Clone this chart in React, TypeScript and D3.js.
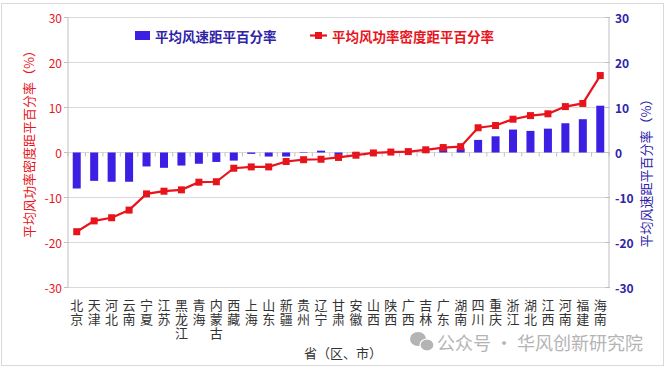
import * as d3 from "d3";
import { useEffect, useRef } from "react";

// provinces, sorted by power density anomaly
const provinces = [
  "北京", "天津", "河北", "云南", "宁夏", "江苏", "黑龙江", "青海", "内蒙古", "西藏",
  "上海", "山东", "新疆", "贵州", "辽宁", "甘肃", "安徽", "山西", "陕西", "广西",
  "吉林", "广东", "湖南", "四川", "重庆", "浙江", "湖北", "江西", "河南", "福建", "海南",
];

// 平均风速距平百分率 (right axis, bars)
const windSpeed = [
  -8.0, -6.3, -6.5, -6.5, -3.1, -3.4, -2.9, -2.5, -2.1, -1.8,
  -0.3, -0.9, -0.9, -0.1, 0.4, -1.2, -0.3, 0.1, 0.3, 0.2,
  0.3, 0.9, 0.9, 2.8, 3.6, 5.1, 4.8, 5.3, 6.5, 7.4, 10.4,
];

// 平均风功率密度距平百分率 (left axis, line)
const powerDensity = [
  -17.6, -15.2, -14.5, -12.8, -9.2, -8.6, -8.3, -6.6, -6.5, -3.5,
  -3.2, -3.2, -2.0, -1.6, -1.5, -1.1, -0.6, -0.1, 0.1, 0.2,
  0.6, 1.1, 1.3, 5.5, 6.0, 7.4, 8.2, 8.6, 10.2, 10.9, 17.1,
];

const tickValues = [30, 20, 10, 0, -10, -20, -30];

const RED = "#e8141c";
const BLUE = "#3b1fe3";
const BLUE_TEXT = "#2f24a8";
const FONT = "'Noto Sans CJK SC', 'Noto Sans', sans-serif";

export default function App() {
  const ref = useRef<SVGSVGElement>(null);

  useEffect(() => {
    const svg = d3.select(ref.current);
    svg.selectAll("*").remove();

    const left = 68, right = 609, top = 17.5, bottom = 287.5;

    const x = d3.scaleBand().domain(provinces).range([left, right]).padding(0);
    const yL = d3.scaleLinear().domain([-30, 30]).range([bottom, top]);
    const yR = d3.scaleLinear().domain([-30, 30]).range([bottom, top]);

    // outer frame
    svg.append("rect")
      .attr("x", 1.5).attr("y", 3.5).attr("width", 662).attr("height", 362)
      .attr("fill", "white").attr("stroke", "#d9d9d9");

    // gridlines
    svg.append("g").selectAll("line")
      .data(tickValues)
      .join("line")
      .attr("x1", left).attr("x2", right)
      .attr("y1", d => yL(d)).attr("y2", d => yL(d))
      .attr("stroke", "#d9d9d9").attr("stroke-width", 1);

    // left axis
    const gl = svg.append("g");
    gl.append("line").attr("x1", left).attr("x2", left).attr("y1", top).attr("y2", bottom)
      .attr("stroke", "#bfbfbf");
    gl.selectAll("line.t").data(tickValues).join("line").attr("class", "t")
      .attr("x1", left - 4).attr("x2", left).attr("y1", d => yL(d)).attr("y2", d => yL(d))
      .attr("stroke", "#bfbfbf");
    gl.selectAll("text").data(tickValues).join("text")
      .attr("x", left - 6).attr("y", d => yL(d))
      .attr("text-anchor", "end").attr("dominant-baseline", "central")
      .attr("font-family", FONT).attr("font-size", 12).attr("fill", RED)
      .text(d => d);

    // right axis
    const gr = svg.append("g");
    gr.append("line").attr("x1", right).attr("x2", right).attr("y1", top).attr("y2", bottom)
      .attr("stroke", "#bfbfbf");
    gr.selectAll("line.t").data(tickValues).join("line").attr("class", "t")
      .attr("x1", right - 4).attr("x2", right + 1).attr("y1", d => yR(d)).attr("y2", d => yR(d))
      .attr("stroke", "#bfbfbf");
    gr.selectAll("text").data(tickValues).join("text")
      .attr("x", right + 6).attr("y", d => yR(d))
      .attr("text-anchor", "start").attr("dominant-baseline", "central")
      .attr("font-family", FONT).attr("font-size", 12).attr("font-weight", "bold")
      .attr("fill", BLUE_TEXT)
      .text(d => d);

    // category ticks on zero line
    const bounds = provinces.map(p => x(p)!).concat([right]);
    svg.append("g").selectAll("line").data(bounds).join("line")
      .attr("x1", d => d).attr("x2", d => d)
      .attr("y1", yL(0)).attr("y2", yL(0) + 4)
      .attr("stroke", "#bfbfbf");

    // bars
    const bw = 8;
    svg.append("g").selectAll("rect")
      .data(windSpeed)
      .join("rect")
      .attr("x", (d, i) => x(provinces[i])! + x.bandwidth() / 2 - bw / 2)
      .attr("y", d => yR(Math.max(0, d)))
      .attr("width", bw)
      .attr("height", d => Math.abs(yR(d) - yR(0)))
      .attr("fill", BLUE);

    // line
    const line = d3.line<number>()
      .x((d, i) => x(provinces[i])! + x.bandwidth() / 2)
      .y(d => yL(d));
    svg.append("path")
      .datum(powerDensity)
      .attr("d", line)
      .attr("fill", "none").attr("stroke", RED).attr("stroke-width", 2.2);
    const ms = 7;
    svg.append("g").selectAll("rect")
      .data(powerDensity)
      .join("rect")
      .attr("x", (d, i) => x(provinces[i])! + x.bandwidth() / 2 - ms / 2)
      .attr("y", d => yL(d) - ms / 2)
      .attr("width", ms).attr("height", ms)
      .attr("fill", RED);

    // x labels, characters stacked vertically (one text per province)
    const xl = svg.append("g").attr("font-family", FONT).attr("font-size", 13).attr("fill", "#333");
    provinces.forEach(p => {
      const cx = x(p)! + x.bandwidth() / 2;
      const t = xl.append("text")
        .attr("x", cx).attr("y", 310)
        .attr("text-anchor", "middle");
      Array.from(p).forEach((ch, k) => {
        t.append("tspan").attr("x", cx).attr("dy", k === 0 ? 0 : 14).text(ch);
      });
    });

    svg.append("text")
      .attr("x", 343).attr("y", 352)
      .attr("text-anchor", "middle").attr("dominant-baseline", "central")
      .attr("font-family", FONT).attr("font-size", 13).attr("fill", "#333")
      .text("省（区、市）");

    // axis titles
    svg.append("text")
      .attr("transform", "translate(28,141) rotate(-90)")
      .attr("text-anchor", "middle").attr("dominant-baseline", "central")
      .attr("font-family", FONT).attr("font-size", 13).attr("fill", RED)
      .text("平均风功率密度距平百分率（%）");
    svg.append("text")
      .attr("transform", "translate(645,170) rotate(-90)")
      .attr("text-anchor", "middle").attr("dominant-baseline", "central")
      .attr("font-family", FONT).attr("font-size", 13).attr("fill", BLUE_TEXT)
      .text("平均风速距平百分率（%）");

    // legend
    const lg = svg.append("g").attr("font-family", FONT).attr("font-size", 13.5);
    lg.append("rect").attr("x", 135).attr("y", 31).attr("width", 15).attr("height", 9).attr("fill", BLUE);
    lg.append("text").attr("x", 155).attr("y", 35.5).attr("dominant-baseline", "central")
      .attr("fill", BLUE_TEXT).attr("font-weight", "bold").text("平均风速距平百分率");
    lg.append("line").attr("x1", 310).attr("x2", 327).attr("y1", 35.5).attr("y2", 35.5)
      .attr("stroke", RED).attr("stroke-width", 2.2);
    lg.append("rect").attr("x", 315).attr("y", 32).attr("width", 7).attr("height", 7).attr("fill", RED);
    lg.append("text").attr("x", 332).attr("y", 35.5).attr("dominant-baseline", "central")
      .attr("fill", RED).attr("font-weight", "bold").text("平均风功率密度距平百分率");

    // watermark
    const wm = svg.append("g").attr("fill", "#b4b4b4");
    wm.append("ellipse").attr("cx", 418).attr("cy", 339).attr("rx", 8).attr("ry", 7);
    wm.append("ellipse").attr("cx", 427).attr("cy", 345).attr("rx", 7).attr("ry", 6)
      .attr("stroke", "white").attr("stroke-width", 1.2);
    wm.append("text").attr("x", 437).attr("y", 342).attr("dominant-baseline", "central")
      .attr("font-family", FONT).attr("font-size", 18).attr("fill", "#b4b4b4")
      .text("公众号 · 华风创新研究院");
  }, []);

  return (
    <svg
      ref={ref}
      width={667}
      height={371}
      style={{ position: "absolute", left: 0, top: 0, background: "white" }}
    />
  );
}
